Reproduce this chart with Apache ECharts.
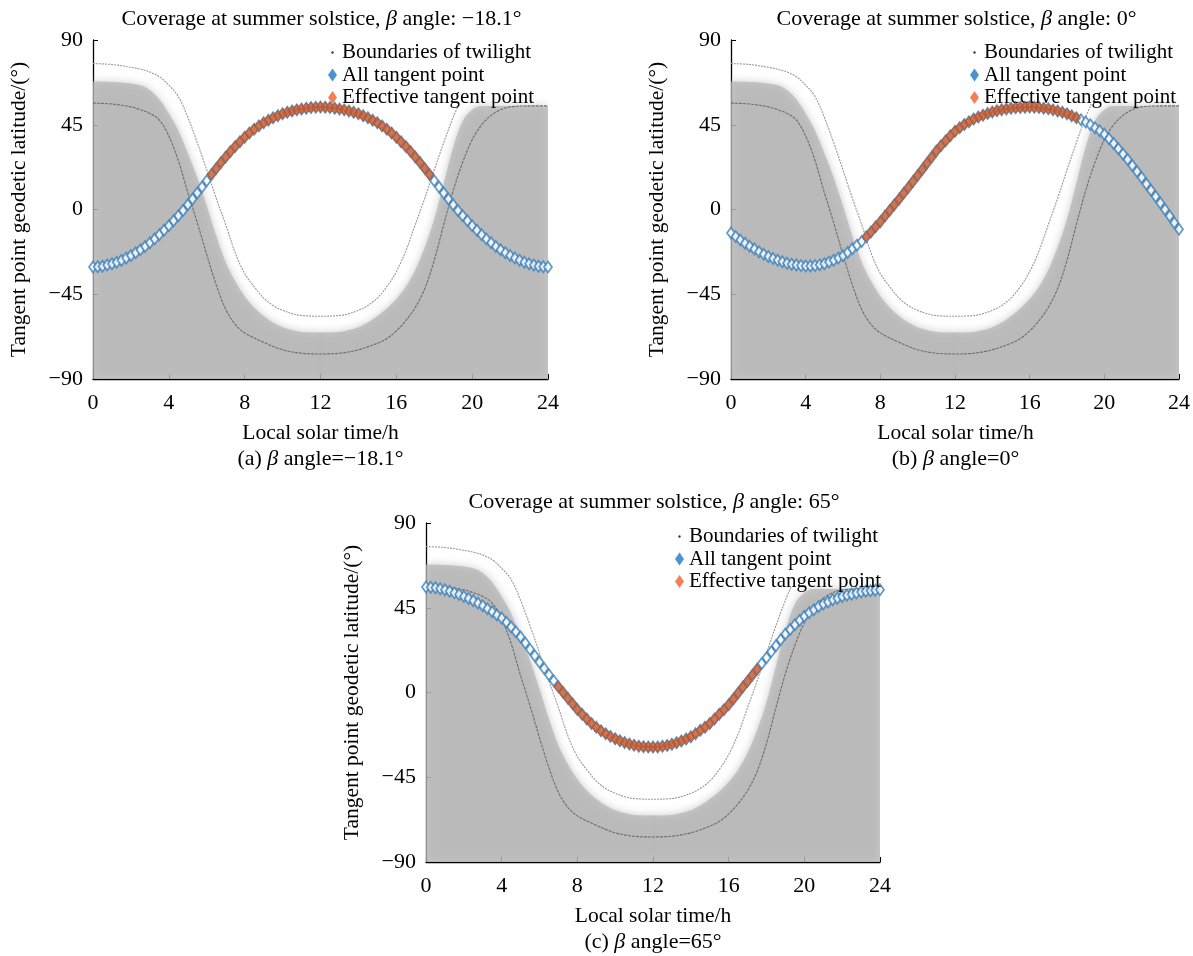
<!DOCTYPE html>
<html>
<head>
<meta charset="utf-8">
<title>Coverage at summer solstice</title>
<script src="https://cdn.jsdelivr.net/npm/echarts@6/dist/echarts.min.js"></script>
<style>
  html, body { margin: 0; padding: 0; background: #fff; }
  #chart { width: 1193px; height: 956px; }
</style>
</head>
<body>
<div id="chart"></div>
<script>
"use strict";

// tick labels of the axes
var xTicks = [0, 4, 8, 12, 16, 20, 24];
var yTicks = [-90, -45, 0, 45, 90];

// local solar time of the tangent points, every quarter hour
var hours = [];
for (var i = 0; i <= 96; i++) hours.push(i / 4);

// tangent point latitude, beta = -18.1
var tangentA = [
  -30.5, -30.4, -30.1, -29.5, -28.8, -28.0, -27.0, -25.8,
  -24.4, -23.0, -21.4, -19.6, -17.7, -15.6, -13.4, -11.0,
  -8.6, -6.0, -3.3, -0.5, 2.5, 5.6, 8.8, 12.0,
  15.3, 18.6, 21.8, 24.9, 27.9, 30.8, 33.5, 36.0,
  38.4, 40.6, 42.6, 44.4, 46.0, 47.4, 48.7, 49.8,
  50.8, 51.6, 52.3, 52.9, 53.4, 53.8, 54.1, 54.3,
  54.4, 54.3, 54.1, 53.8, 53.4, 52.9, 52.3, 51.6,
  50.8, 49.8, 48.7, 47.4, 46.0, 44.4, 42.6, 40.6,
  38.4, 36.0, 33.5, 30.8, 27.9, 24.9, 21.8, 18.6,
  15.3, 12.0, 8.8, 5.6, 2.5, -0.5, -3.3, -6.0,
  -8.6, -11.0, -13.4, -15.6, -17.7, -19.6, -21.4, -23.0,
  -24.4, -25.8, -27.0, -28.0, -28.8, -29.5, -30.1, -30.4,
  -30.5
];

// tangent point latitude, beta = 0
var tangentB = [
  -12.5, -14.4, -16.2, -17.9, -19.5, -21.0, -22.4, -23.8,
  -25.0, -26.0, -26.9, -27.8, -28.5, -29.1, -29.5, -29.8,
  -30.0, -30.0, -29.8, -29.4, -28.8, -27.9, -26.9, -25.8,
  -24.5, -22.8, -20.9, -19.0, -17.0, -14.5, -11.9, -9.2,
  -6.5, -3.5, -0.5, 2.5, 5.5, 8.6, 11.7, 14.9,
  18.0, 21.3, 24.6, 27.8, 31.0, 33.8, 36.5, 39.1,
  41.5, 43.4, 45.1, 46.6, 48.0, 49.1, 50.1, 51.0,
  51.8, 52.4, 53.0, 53.4, 53.8, 54.0, 54.2, 54.3,
  54.4, 54.3, 54.1, 53.8, 53.5, 52.9, 52.3, 51.6,
  50.8, 49.8, 48.7, 47.6, 46.5, 45.0, 43.4, 41.8,
  40.0, 37.6, 35.0, 32.3, 29.5, 26.5, 23.4, 20.2,
  17.0, 13.6, 10.2, 6.9, 3.5, 0.0, -3.5, -7.0,
  -10.5
];

// tangent point latitude, beta = 65
var tangentC = [
  56.0, 55.9, 55.6, 55.1, 54.5, 53.8, 52.9, 52.0,
  51.0, 49.9, 48.7, 47.4, 46.0, 44.5, 42.9, 41.2,
  39.5, 37.3, 34.8, 32.2, 29.5, 26.3, 22.9, 19.5,
  16.0, 12.7, 9.4, 6.2, 3.0, 0.0, -3.0, -6.0,
  -9.0, -11.6, -14.1, -16.4, -18.5, -20.3, -21.9, -23.3,
  -24.5, -25.6, -26.6, -27.4, -28.0, -28.5, -28.8, -29.0,
  -29.0, -28.9, -28.6, -28.1, -27.5, -26.7, -25.7, -24.7,
  -23.5, -21.9, -20.1, -18.4, -16.5, -14.1, -11.6, -9.1,
  -6.5, -3.4, -0.3, 2.9, 6.0, 9.2, 12.3, 15.4,
  18.5, 21.7, 24.8, 28.0, 31.0, 33.5, 36.0, 38.3,
  40.5, 42.3, 44.0, 45.6, 47.0, 48.1, 49.2, 50.1,
  51.0, 51.6, 52.2, 52.8, 53.3, 53.7, 54.0, 54.3,
  54.5
];

// time window of the effective (sunlit) tangent points
var effectiveA = [6.25, 17.75];
var effectiveB = [7.25, 18.5];
var effectiveC = [7.0, 17.5];

// upper edge of the night (grey) region [time, latitude]
var nightEdge = [
  [0, 68], [1.5, 67.5], [2.5, 66], [3, 63.5], [3.5, 58.5], [4, 51],
  [4.5, 42], [5, 30], [5.5, 17], [6, 2], [6.5, -14], [7, -28],
  [7.5, -38], [8, -46], [8.5, -52], [9, -56.5], [9.5, -60], [10, -62.5],
  [10.5, -64], [11, -65], [12, -65.3], [13, -65], [13.5, -64], [14, -62.5],
  [14.5, -60], [15, -56.5], [15.5, -52.5], [16, -47.5], [16.5, -41], [17, -32],
  [17.5, -20], [18, -5], [18.5, 14], [19, 33], [19.5, 47], [20, 53],
  [20.5, 55], [24, 55]
];

// twilight boundaries [time, latitude]
var twilightOuter = [
  [0, 77.5], [1, 77], [2, 75.5], [2.5, 74.5], [3, 73], [3.5, 70.5],
  [4, 66], [4.5, 60], [5, 49], [5.5, 35.5], [6, 21], [6.5, 6],
  [7, -8], [7.5, -23], [8, -34], [8.5, -41], [9, -47], [9.5, -51],
  [10, -53.5], [10.5, -55.3], [11, -56.3], [12, -56.7], [13, -56.3], [13.5, -55.3],
  [14, -53.5], [14.5, -51], [15, -47], [15.5, -41], [16, -33], [16.5, -22],
  [17, -8], [17.5, 6], [18, 21], [18.5, 35.5], [19, 49], [19.3, 56]
];
var twilightInner = [
  [0, 56.5], [1, 56], [2, 54.5], [2.5, 53], [3, 51], [3.5, 47.5],
  [4, 39], [4.5, 26], [5, 9], [5.5, -7], [6, -24], [6.5, -40],
  [7, -53], [7.5, -61], [8, -65.5], [9, -70.5], [10, -74.5], [11, -76.3],
  [12, -76.7], [13, -76.3], [14, -74.5], [15, -71], [15.5, -68.5], [16, -64.5],
  [16.5, -59], [17, -52], [17.5, -42], [18, -27], [18.5, -8], [19, 10],
  [19.5, 25], [20, 37], [20.5, 45], [21, 50], [21.5, 53], [22, 54.5], [23, 55], [24, 55]
];

var titles = [
  'Coverage at summer solstice, β angle: −18.1°',
  'Coverage at summer solstice, β angle: 0°',
  'Coverage at summer solstice, β angle: 65°'
];
var captions = ['(a) β angle=−18.1°', '(b) β angle=0°', '(c) β angle=65°'];

var FONT = '"Liberation Serif", "Times New Roman", serif';
var dotIcon = 'image://data:image/svg+xml;utf8,' + encodeURIComponent(
  '<svg xmlns="http://www.w3.org/2000/svg" width="10" height="12"><circle cx="5" cy="6" r="1.3" fill="#333"/></svg>');

var panels = [
  { tangent: tangentA, eff: effectiveA, grid: { left: 93, top: 40, width: 455, height: 339 }, legend: [328, 42] },
  { tangent: tangentB, eff: effectiveB, grid: { left: 731, top: 40, width: 449, height: 339 }, legend: [970, 42] },
  { tangent: tangentC, eff: effectiveC, grid: { left: 426, top: 523, width: 454, height: 339 }, legend: [675, 526] }
];

var myChart = echarts.init(document.getElementById('chart'), null, { renderer: 'canvas' });

function minusFmt(v) {
  return v < 0 ? '\u2212' + Math.abs(v) : String(v);
}

function richText(s) {
  return s.replace('β', '{b|β}');
}

var option = {
  animation: false,
  backgroundColor: '#fff',
  textStyle: { fontFamily: FONT },
  grid: [], xAxis: [], yAxis: [], legend: [], series: [], graphic: []
};

panels.forEach(function (p, k) {
  var g = p.grid;
  option.grid.push({ left: g.left, top: g.top, width: g.width, height: g.height, containLabel: false });

  option.xAxis.push({
    type: 'value', gridIndex: k,
    min: xTicks[0], max: xTicks[xTicks.length - 1], interval: 4,
    axisLine: { onZero: false, lineStyle: { color: '#000', width: 1.3 } },
    axisTick: { inside: true, length: 5, lineStyle: { color: '#000' } },
    axisLabel: { color: '#000', fontSize: 22, fontFamily: FONT, margin: 13 },
    splitLine: { show: false }
  });
  option.yAxis.push({
    type: 'value', gridIndex: k,
    min: yTicks[0], max: yTicks[yTicks.length - 1], interval: 45,
    axisLine: { show: true, onZero: false, lineStyle: { color: '#000', width: 1.3 } },
    axisTick: { show: true, inside: true, length: 5, lineStyle: { color: '#000' } },
    axisLabel: { color: '#000', fontSize: 22, fontFamily: FONT, margin: 10, formatter: minusFmt },
    splitLine: { show: false }
  });

  option.legend.push({
    orient: 'vertical', left: p.legend[0], top: p.legend[1],
    itemWidth: 9, itemHeight: 13, itemGap: 1.5, padding: 0,
    textStyle: { color: '#000', fontSize: 21, fontFamily: FONT, lineHeight: 21 },
    selectedMode: false,
    data: [
      { name: 'Boundaries of twilight', icon: dotIcon },
      { name: 'All tangent point', icon: 'diamond', itemStyle: { color: '#1f77c4', borderWidth: 0 } },
      { name: 'Effective tangent point', icon: 'diamond', itemStyle: { color: '#f0602a', borderWidth: 0 } }
    ]
  });

  // night region
  option.series.push({
    type: 'line', xAxisIndex: k, yAxisIndex: k, z: 1,
    data: nightEdge, smooth: 0.35, showSymbol: false, symbol: 'none', clip: true,
    silent: true,
    lineStyle: { width: 0 },
    areaStyle: { origin: 'start', color: '#b4b4b4', shadowBlur: 9, shadowColor: '#b4b4b4' },
    markArea: {
      silent: true,
      itemStyle: { color: 'rgba(0,0,0,0.06)' },
      data: [[{ coord: [11.85, -90] }, { coord: [12.15, -65.3] }]]
    }
  });
  // twilight boundaries
  option.series.push({
    name: 'Boundaries of twilight', type: 'line', xAxisIndex: k, yAxisIndex: k, z: 2,
    data: twilightOuter, smooth: 0.35, showSymbol: false, symbol: 'none', clip: true,
    itemStyle: { color: '#333' },
    lineStyle: { color: '#999', width: 1.1, type: [2, 1] }
  });
  option.series.push({
    name: 'Boundaries of twilight', type: 'line', xAxisIndex: k, yAxisIndex: k, z: 2,
    data: twilightInner, smooth: 0.35, showSymbol: false, symbol: 'none', clip: true,
    itemStyle: { color: '#333' },
    lineStyle: { color: '#6e6e6e', width: 1.1, type: [3, 1] }
  });

  var all = hours.map(function (t, i) { return [t, p.tangent[i]]; });
  var eff = all.filter(function (d) { return d[0] >= p.eff[0] && d[0] <= p.eff[1]; });

  option.series.push({
    name: 'All tangent point', type: 'scatter', xAxisIndex: k, yAxisIndex: k, z: 3,
    data: all, symbol: 'diamond', symbolSize: [8, 11], clip: false,
    itemStyle: { color: '#ffffff', borderColor: '#3a7fba', borderWidth: 1.8 }
  });
  option.series.push({
    name: 'Effective tangent point', type: 'scatter', xAxisIndex: k, yAxisIndex: k, z: 4,
    data: eff, symbol: 'diamond', symbolSize: [9, 11], clip: false,
    itemStyle: { color: '#c2552b', borderColor: '#b0603e', borderWidth: 0.6 }
  });

  var cx = g.left + g.width / 2;
  var cy = g.top + g.height / 2;
  var bottom = g.top + g.height;
  var textBase = { fill: '#000', font: '22px ' + FONT, textAlign: 'center', textVerticalAlign: 'middle',
    rich: { b: { fontStyle: 'italic', fontSize: 22, fontFamily: FONT } } };
  var nameBase = Object.assign({}, textBase, { font: '21.5px ' + FONT });

  option.graphic.push({ type: 'text', x: cx + 1, y: g.top - 21, silent: true,
    style: Object.assign({}, textBase, { text: richText(titles[k]) }) });
  option.graphic.push({ type: 'text', x: cx, y: bottom + 54, silent: true,
    style: Object.assign({}, nameBase, { text: 'Local solar time/h' }) });
  option.graphic.push({ type: 'text', x: cx, y: bottom + 80, silent: true,
    style: Object.assign({}, textBase, { text: richText(captions[k]) }) });
  option.graphic.push({ type: 'text', x: g.left - 74, y: cy, rotation: Math.PI / 2, silent: true,
    style: Object.assign({}, nameBase, { text: 'Tangent point geodetic latitude/(°)' }) });
});

myChart.setOption(option);
</script>
</body>
</html>
